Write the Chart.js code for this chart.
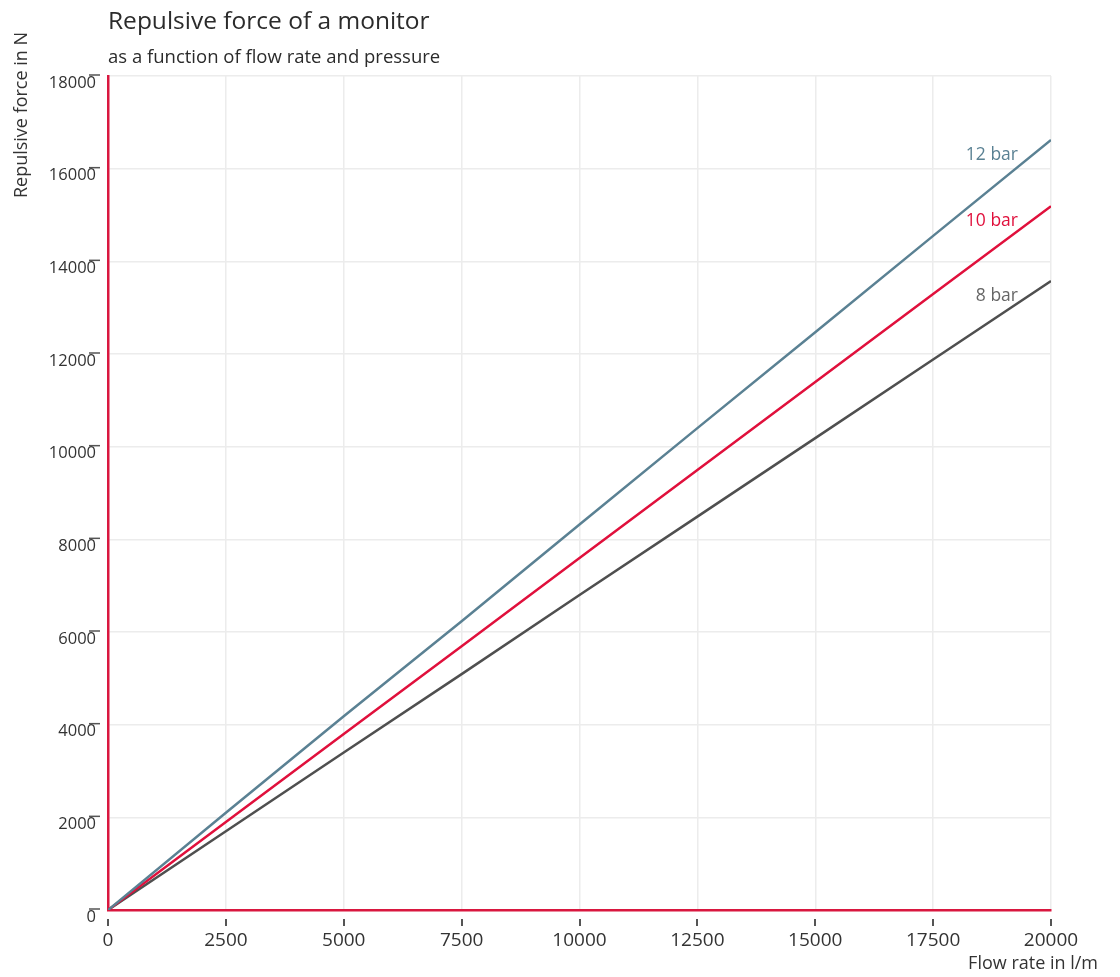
<!DOCTYPE html>
<html>
<head>
<meta charset="utf-8">
<script src="https://cdn.jsdelivr.net/npm/chart.js@4/dist/chart.umd.min.js"></script>
<style>
    html, body { margin: 0; padding: 0; background: #ffffff; }
    #wrap { width: 1120px; height: 977px; position: relative; }
</style>
</head>
<body>
<div id="wrap"><canvas id="forceChart"></canvas></div>
<script>
// Values
const flowRates = [0, 2500, 5000, 7500, 10000, 12500, 15000, 17500, 20000];
const force12bar = [0, 2100, 4180, 6230, 8320, 10400, 12470, 14550, 16620];
const force10bar = [0, 1900, 3800, 5690, 7595, 9495, 11395, 13295, 15190];
const force8bar = [0, 1700, 3400, 5090, 6800, 8490, 10185, 11880, 13575];
const seriesNames = ["12 bar", "10 bar", "8 bar"];

const FONT = "'Open Sans', sans-serif";
const RED = "#d9173f";

const points = (values) => values.map((v, i) => ({ x: flowRates[i], y: v }));
const plainNumber = (value) => String(value);

// extra texts and the detached tick marks
const decorations = {
    id: "decorations",
    afterDraw(chart) {
        const ctx = chart.ctx;
        const area = chart.chartArea;
        const xScale = chart.scales.x;
        const yScale = chart.scales.y;
        ctx.save();

        ctx.fillStyle = "#2b2b2b";
        ctx.textAlign = "left";
        ctx.textBaseline = "alphabetic";
        ctx.font = "24.5px " + FONT;
        ctx.fillText("Repulsive force of a monitor", area.left, 29);
        ctx.font = "18.5px " + FONT;
        ctx.fillText("as a function of flow rate and pressure", area.left, 63);

        ctx.font = "18px " + FONT;
        ctx.fillStyle = "#333333";
        ctx.save();
        ctx.translate(22, 115);
        ctx.rotate(-Math.PI / 2);
        ctx.textAlign = "center";
        ctx.textBaseline = "middle";
        ctx.fillText("Repulsive force in N", 0, 0);
        ctx.restore();

        ctx.font = "18px " + FONT;
        ctx.textAlign = "right";
        ctx.textBaseline = "middle";
        ctx.fillText("Flow rate in l/m", 1098, 964);

        // tick marks
        ctx.strokeStyle = "#555555";
        ctx.lineWidth = 2;
        xScale.ticks.forEach((t, i) => {
            const px = Math.round(xScale.getPixelForTick(i));
            ctx.beginPath();
            ctx.moveTo(px, area.bottom + 9);
            ctx.lineTo(px, area.bottom + 16);
            ctx.stroke();
        });
        ctx.lineWidth = 1.5;
        yScale.ticks.forEach((t, i) => {
            const py = yScale.getPixelForTick(i) - 1;
            ctx.beginPath();
            ctx.moveTo(area.left - 19, py);
            ctx.lineTo(area.left - 8, py);
            ctx.stroke();
        });

        // series labels next to the line ends
        ctx.font = "17.5px " + FONT;
        ctx.textAlign = "right";
        chart.data.datasets.forEach((ds, i) => {
            const meta = chart.getDatasetMeta(i);
            const last = meta.data[meta.data.length - 1];
            ctx.fillStyle = ds.labelColor;
            ctx.fillText(ds.label, last.x - 33, last.y + 15);
        });

        ctx.restore();
    }
};

new Chart(document.getElementById("forceChart").getContext("2d"), {
    type: "line",
    data: {
        datasets: [
            {
                label: seriesNames[0],
                data: points(force12bar),
                borderColor: "#5a8193",
                labelColor: "#5a8193",
            },
            {
                label: seriesNames[1],
                data: points(force10bar),
                borderColor: "#e0103c",
                labelColor: "#e0103c",
            },
            {
                label: seriesNames[2],
                data: points(force8bar),
                borderColor: "#4f4f4f",
                labelColor: "#666666",
            },
        ]
    },
    options: {
        animation: false,
        responsive: true,
        maintainAspectRatio: false,
        layout: {
            padding: { top: 76, right: 69, left: 0, bottom: 0 }
        },
        elements: {
            point: { radius: 0 },
            line: { borderWidth: 2.5, tension: 0 }
        },
        scales: {
            x: {
                type: "linear",
                min: 0,
                max: 20000,
                afterFit: (scale) => { scale.height = 67; },
                ticks: {
                    stepSize: 2500,
                    padding: 19,
                    maxRotation: 0,
                    color: "#333333",
                    font: { family: FONT, size: 19 },
                    callback: plainNumber
                },
                grid: {
                    color: "#ececec",
                    lineWidth: 1.5,
                    drawTicks: false
                },
                border: { color: RED, width: 2.5 }
            },
            y: {
                min: 0,
                max: 18000,
                afterFit: (scale) => { scale.width = 108; },
                ticks: {
                    stepSize: 2000,
                    padding: 12,
                    labelOffset: 7,
                    color: "#333333",
                    font: { family: FONT, size: 16.5 },
                    callback: plainNumber
                },
                grid: {
                    color: "#ececec",
                    lineWidth: 1.5,
                    drawTicks: false
                },
                border: { color: RED, width: 2.5 }
            }
        },
        plugins: {
            legend: { display: false },
            tooltip: { enabled: false },
            title: { display: false }
        }
    },
    plugins: [decorations]
});
</script>
</body>
</html>
